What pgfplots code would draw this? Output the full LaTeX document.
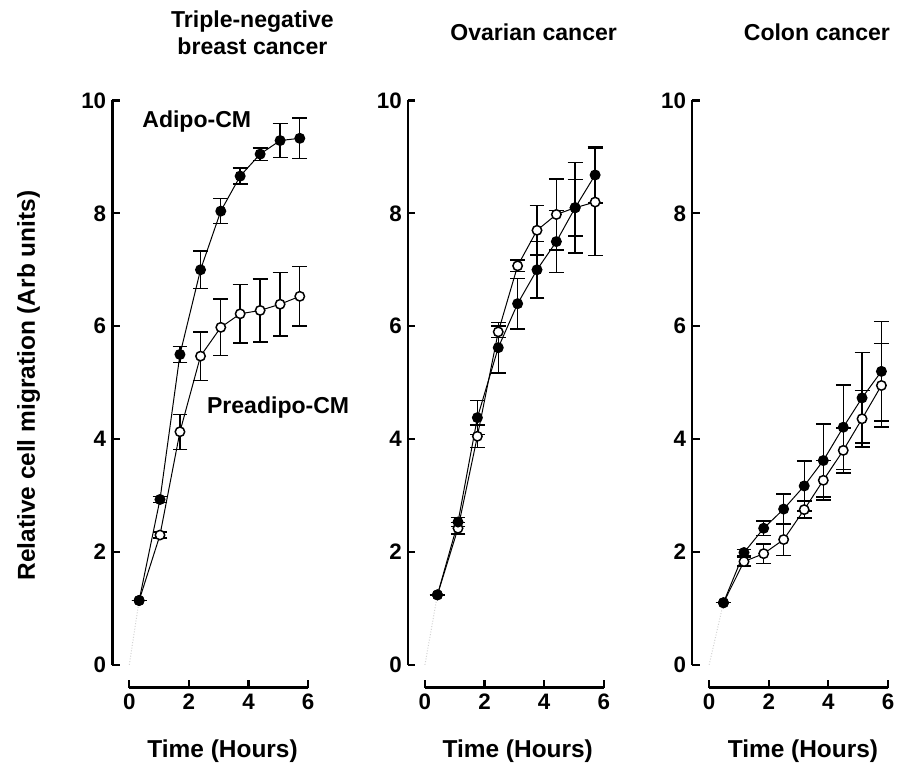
\documentclass[border=0pt]{standalone}
\usepackage{fontspec}
\setmainfont{Liberation Sans}
\usepackage{pgfplots}
\pgfplotsset{compat=1.18}

% 1 px of the reference = 0.02cm
\pgfplotsset{
  panel/.style={
    x=0.6cm, y=1.136cm,
    xmin=-0.57, xmax=6, ymin=-0.405, ymax=10,
    anchor=south west,
    axis lines=left, axis line style={draw=none},
    tick align=inside, major tick length=0.15cm,
    tick style={line width=0.045cm, black},
    xtick={0,2,4,6}, ytick={0,2,...,10},
    ticklabel style={font=\fontsize{12.8}{13}\selectfont\bfseries},
    /pgf/number format/assume math mode=true,
    clip=false,
  },
  ser/.style={black, line width=0.02cm, mark=*, mark size=0.095cm,
    error bars/y dir=both, error bars/y explicit,
    error bars/error bar style={line width=0.028cm},
    error bars/error mark options={rotate=90, mark size=0.15cm, line width=0.03cm}},
  filled/.style={ser, mark options={fill=black, line width=0.03cm}},
  open/.style={ser, mark options={fill=white, line width=0.03cm}},
  guide/.style={gray!35, densely dotted, line width=0.02cm, forget plot},
}
\newcommand{\axlines}{%
  \draw[line width=0.05cm] (axis cs:-0.57,0) -- (axis cs:-0.57,10);
  \draw[line width=0.05cm] (axis cs:0,-0.405) -- (axis cs:6,-0.405);}

\begin{document}
\begin{tikzpicture}
\begin{scope}[x=0.02cm, y=-0.02cm]
  \path[use as bounding box] (0,0) rectangle (900,772);
  \coordinate (p1) at (113,692);
  \coordinate (p2) at (410.5,692);
  \coordinate (p3) at (696.5,692);
  \begin{scope}[font=\fontsize{13.2}{15}\selectfont\bfseries]
    \node[anchor=base] at (254,28) {Triple-negative};
    \node[anchor=base] at (254,55) {breast cancer};
    \node[anchor=base] at (537,41) {Ovarian cancer};
    \node[anchor=base] at (822,41) {Colon cancer};
    \node[anchor=base] at (198,128) {Adipo-CM};
    \node[anchor=base west, inner sep=0pt] at (208,416) {Preadipo-CM};
  \end{scope}
  \begin{scope}[font=\fontsize{14}{16}\selectfont\bfseries]
    \node[anchor=base, rotate=90] at (35,388) {Relative cell migration (Arb units)};
    \node[anchor=base] at (224,762) {Time (Hours)};
    \node[anchor=base] at (521,762) {Time (Hours)};
    \node[anchor=base] at (808,762) {Time (Hours)};
  \end{scope}
\end{scope}

% Triple-negative breast cancer
\begin{axis}[panel, at={(p1)}]
  \axlines
  \addplot[guide] coordinates {(0,0) (0.33,1.14)};
  \addplot[open] coordinates {
    (0.33,1.14) +- (0,0) (1.03,2.30) +- (0,0.05) (1.70,4.13) +- (0,0.31)
    (2.39,5.47) +- (0,0.43) (3.07,5.98) +- (0,0.50) (3.72,6.22) +- (0,0.52)
    (4.39,6.28) +- (0,0.56) (5.06,6.39) +- (0,0.56) (5.72,6.53) +- (0,0.53)};
  \addplot[filled] coordinates {
    (0.33,1.14) +- (0,0) (1.03,2.93) +- (0,0.05) (1.70,5.50) +- (0,0.14)
    (2.39,7.00) +- (0,0.33) (3.07,8.04) +- (0,0.22) (3.72,8.66) +- (0,0.14)
    (4.39,9.05) +- (0,0.11) (5.06,9.29) +- (0,0.30) (5.72,9.33) +- (0,0.36)};
\end{axis}

% Ovarian cancer
\begin{axis}[panel, at={(p2)}]
  \axlines
  \addplot[guide] coordinates {(0,0) (0.42,1.24)};
  \addplot[open] coordinates {
    (0.42,1.24) +- (0,0) (1.11,2.42) +- (0,0.10) (1.76,4.05) +- (0,0.20)
    (2.46,5.90) +- (0,0.10) (3.11,7.07) +- (0,0.10) (3.76,7.70) +- (0,0.44)
    (4.41,7.98) +- (0,0.63) (5.04,8.10) +- (0,0.50) (5.71,8.20) +- (0,0.95)};
  \addplot[filled] coordinates {
    (0.42,1.24) +- (0,0) (1.11,2.53) +- (0,0.08) (1.76,4.38) +- (0,0.30)
    (2.46,5.62) +- (0,0.45) (3.11,6.40) +- (0,0.45) (3.76,7.00) +- (0,0.50)
    (4.41,7.50) +- (0,0.55) (5.04,8.10) +- (0,0.80) (5.71,8.68) +- (0,0.50)};
\end{axis}

% Colon cancer
\begin{axis}[panel, at={(p3)}]
  \axlines
  \addplot[guide] coordinates {(0,0) (0.48,1.10)};
  \addplot[open] coordinates {
    (0.48,1.10) +- (0,0) (1.17,1.83) +- (0,0.08) (1.83,1.97) +- (0,0.17)
    (2.50,2.22) +- (0,0.28) (3.19,2.75) +- (0,0.15) (3.83,3.27) +- (0,0.35)
    (4.50,3.80) +- (0,0.40) (5.13,4.36) +- (0,0.50) (5.78,4.95) +- (0,0.74)};
  \addplot[filled] coordinates {
    (0.48,1.10) +- (0,0) (1.17,1.99) +- (0,0.05) (1.83,2.42) +- (0,0.13)
    (2.50,2.76) +- (0,0.27) (3.19,3.17) +- (0,0.44) (3.83,3.62) +- (0,0.65)
    (4.50,4.21) +- (0,0.75) (5.13,4.73) +- (0,0.80) (5.78,5.20) +- (0,0.88)};
\end{axis}
\end{tikzpicture}
\end{document}
